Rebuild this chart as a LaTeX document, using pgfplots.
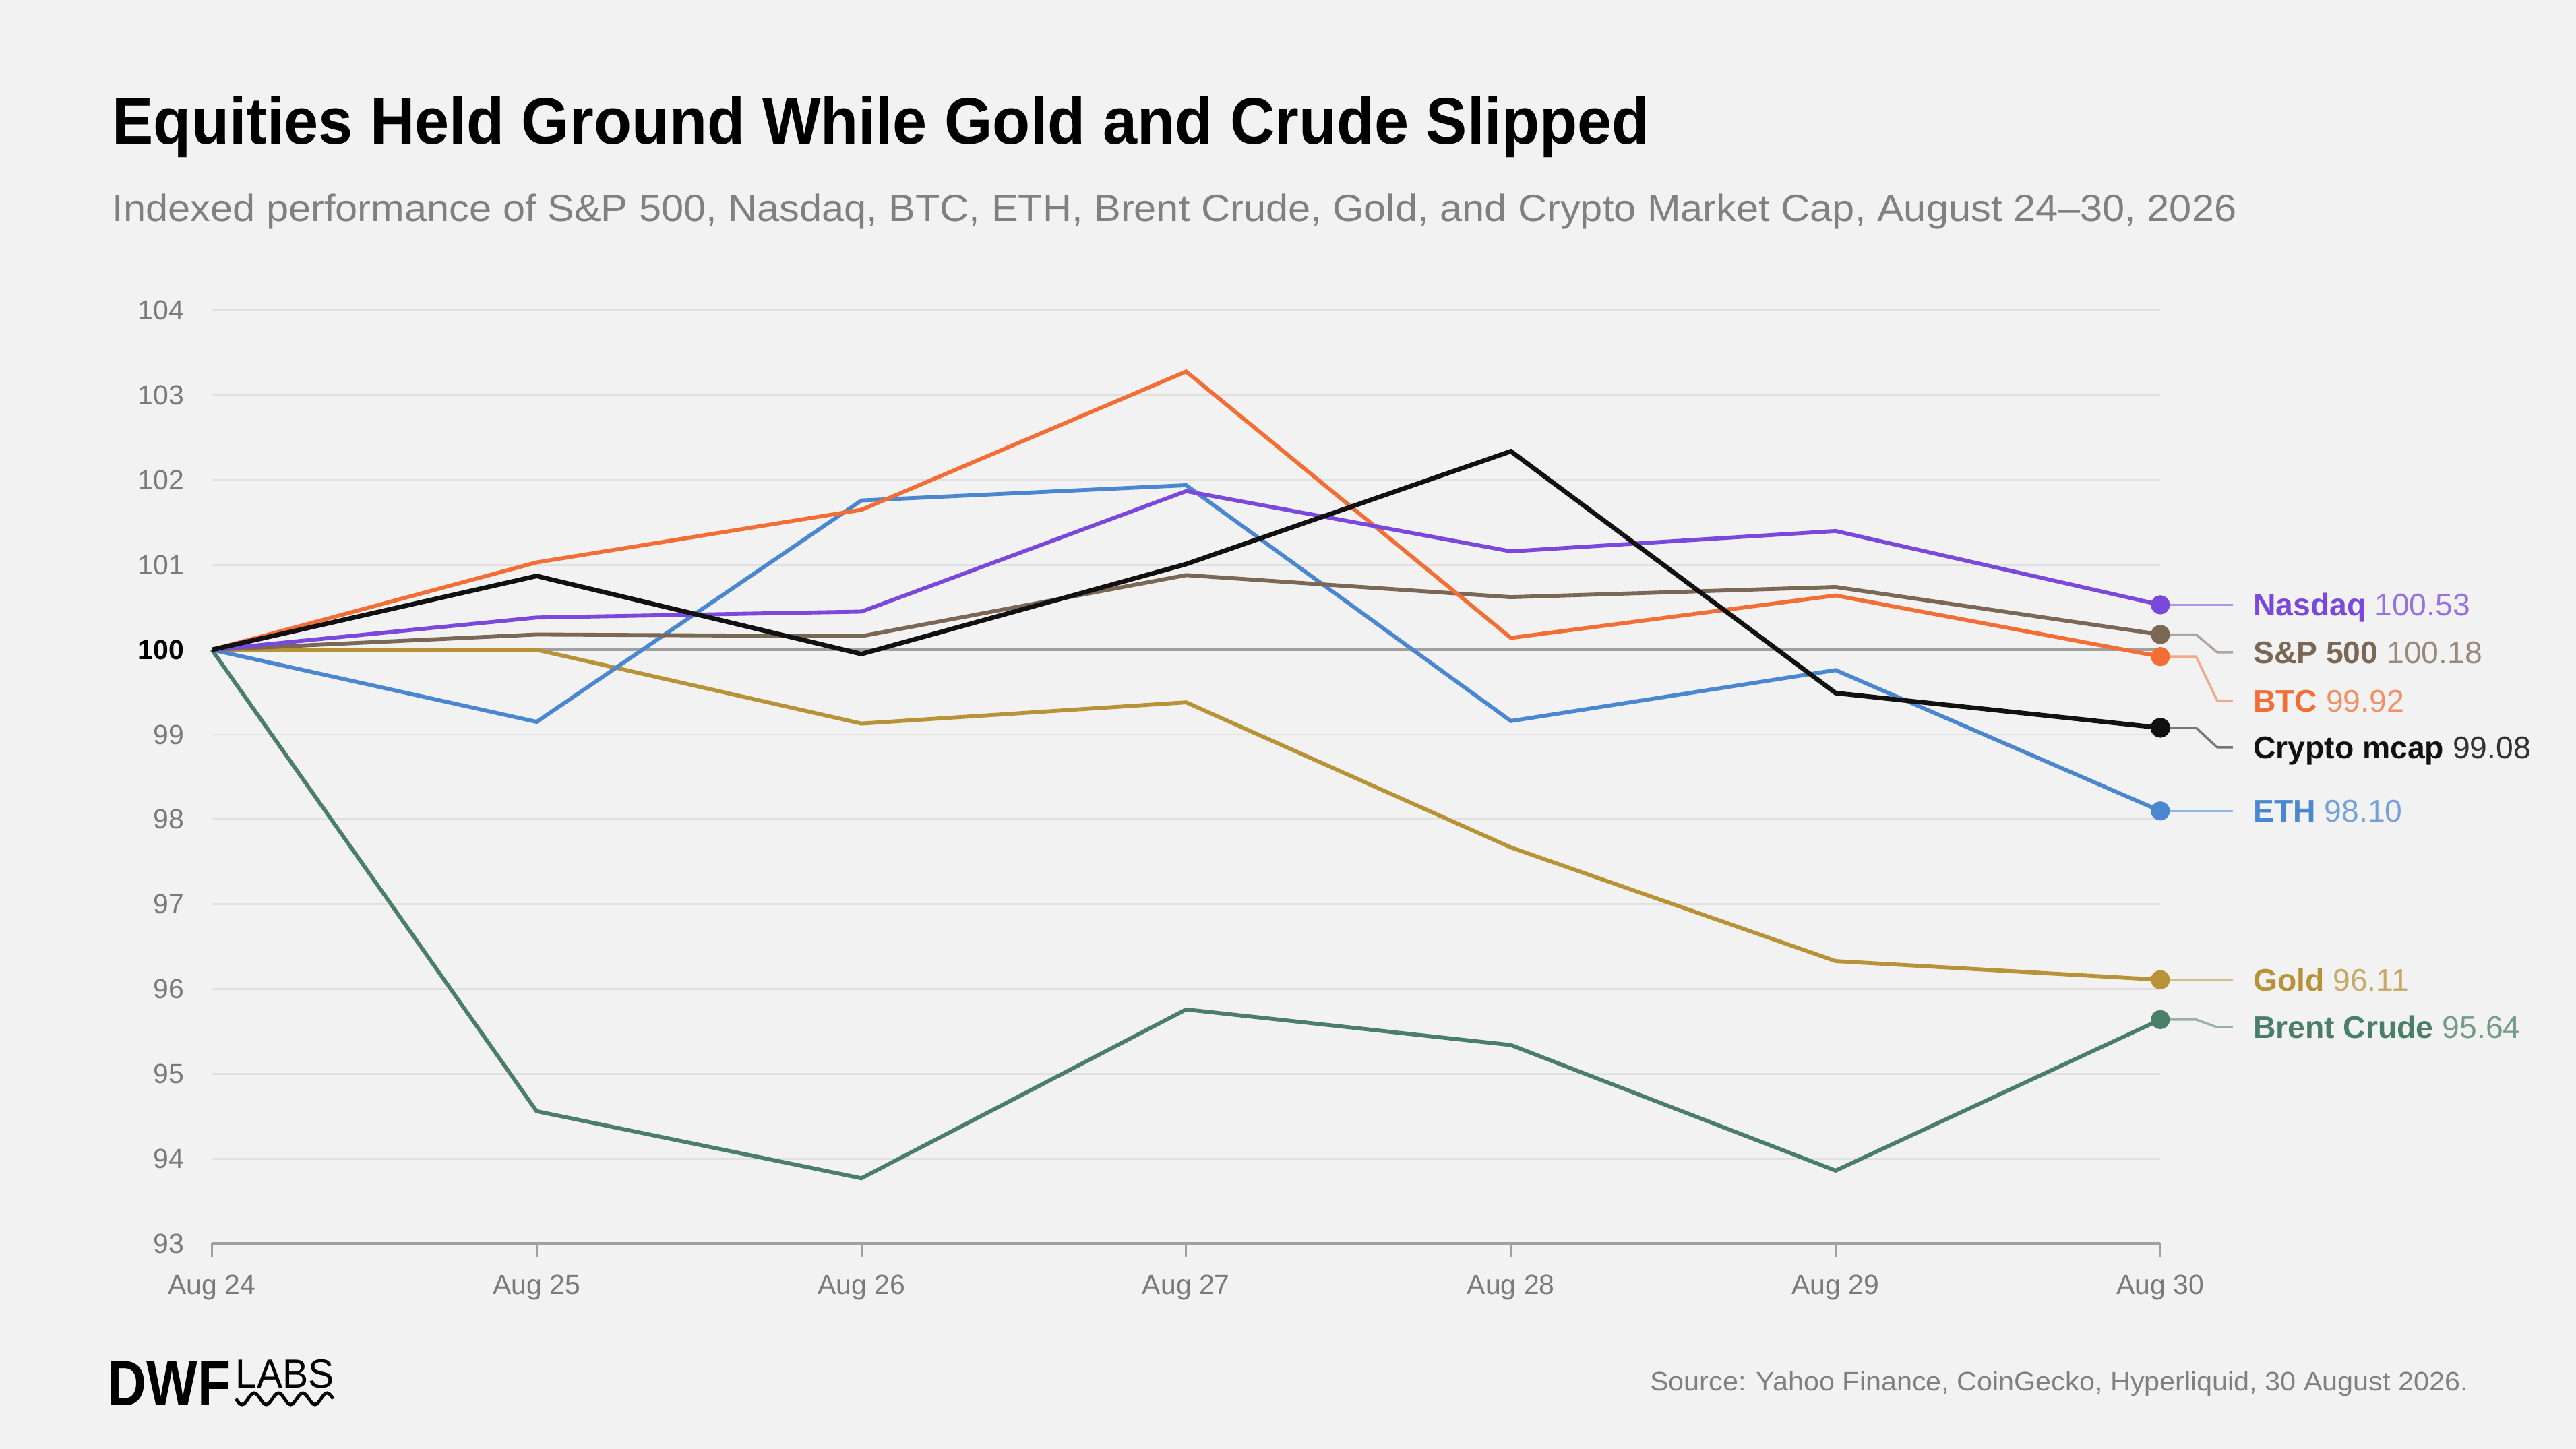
\documentclass[border=0pt]{standalone}
\usepackage{graphicx}
\usepackage{pgfplots}
\usepackage{pgfplotstable}
\pgfplotsset{compat=1.18}
\usepackage{fontspec}
\setmainfont{Liberation Sans}
\definecolor{bg}{HTML}{F2F2F2}
\definecolor{gridc}{HTML}{E1E1E1}
\definecolor{axisc}{HTML}{A0A0A0}
\definecolor{tickc}{HTML}{7A7A7A}
\definecolor{subc}{HTML}{808080}
\definecolor{nasdaqc}{HTML}{7B48DC}
\definecolor{spc}{HTML}{7A6756}
\definecolor{btcc}{HTML}{F26E35}
\definecolor{mcapc}{HTML}{111111}
\definecolor{ethc}{HTML}{4A87D0}
\definecolor{goldc}{HTML}{B89237}
\definecolor{brentc}{HTML}{4A7E68}

\pgfplotstableread{
x nasdaq sp btc mcap eth gold brent
0 100.00 100.00 100.00 100.00 100.00 100.00 100.00
1 100.38 100.18 101.03 100.87 99.15 100.00 94.56
2 100.45 100.16 101.65 99.95 101.76 99.13 93.77
3 101.87 100.88 103.28 101.01 101.94 99.38 95.76
4 101.16 100.62 100.14 102.34 99.16 97.67 95.34
5 101.40 100.74 100.64 99.49 99.76 96.33 93.86
6 100.53 100.18 99.92 99.08 98.10 96.11 95.64
}\data

\begin{document}
\begin{tikzpicture}
\fill[bg] (0,0) rectangle (784pt,441pt);

\node[anchor=base west, inner sep=0pt] at (34pt,397.25pt)
  {\resizebox{467.8pt}{\height}{\fontsize{20}{24}\selectfont\bfseries Equities Held Ground While Gold and Crude Slipped}};
\node[anchor=base west, inner sep=0pt, text=subc] at (34pt,373.65pt)
  {\resizebox{646.5pt}{\height}{\fontsize{11.5}{14}\selectfont Indexed performance of S\&P 500, Nasdaq, BTC, ETH, Brent Crude, Gold, and Crypto Market Cap, August 24--30, 2026}};

\begin{axis}[
  at={(64.5pt,62.5pt)}, anchor=south west,
  scale only axis, width=593pt, height=284pt,
  xmin=0, xmax=6, ymin=93, ymax=104,
  xtick={0,...,6},
  xticklabels={Aug 24,Aug 25,Aug 26,Aug 27,Aug 28,Aug 29,Aug 30},
  ytick={93,...,104},
  yticklabels={93,94,95,96,97,98,99,{\textcolor{black}{\bfseries 100}},101,102,103,104},
  ymajorgrids, grid style={color=gridc, line width=0.6pt},
  axis lines*=left,
  y axis line style={draw=none},
  x axis line style={color=axisc, line width=0.9pt, -},
  xtick style={color=axisc, line width=0.6pt},
  ytick style={draw=none},
  major tick length=4pt, xtick align=outside,
  tick label style={font=\fontsize{8.4}{10}\selectfont, text=tickc},
  xticklabel style={yshift=-2pt},
  yticklabel style={xshift=-5pt},
  clip=false,
  every axis plot/.append style={line width=1.2pt, mark size=2.3pt, mark indices={7}, mark=*},
]
\addplot[draw=axisc, line width=0.8pt, forget plot, mark=none] coordinates {(0,100) (6,100)};
\addplot[brentc] table[x=x,y=brent] {\data};
\addplot[goldc] table[x=x,y=gold] {\data};
\addplot[ethc] table[x=x,y=eth] {\data};
\addplot[spc] table[x=x,y=sp] {\data};
\addplot[btcc] table[x=x,y=btc] {\data};
\addplot[nasdaqc] table[x=x,y=nasdaq] {\data};
\addplot[mcapc, line width=1.4pt] table[x=x,y=mcap] {\data};

% connectors
\draw[nasdaqc!55!bg, line width=0.7pt] (axis cs:6,100.53) -- (axis cs:6.223,100.53);
\draw[spc!55!bg, line width=0.7pt] (axis cs:6,100.18) -- (axis cs:6.11,100.18) -- (axis cs:6.175,99.97) -- (axis cs:6.223,99.97);
\draw[btcc!55!bg, line width=0.7pt] (axis cs:6,99.92) -- (axis cs:6.11,99.92) -- (axis cs:6.175,99.40) -- (axis cs:6.223,99.40);
\draw[mcapc!55!bg, line width=0.7pt] (axis cs:6,99.08) -- (axis cs:6.11,99.08) -- (axis cs:6.175,98.85) -- (axis cs:6.223,98.85);
\draw[ethc!55!bg, line width=0.7pt] (axis cs:6,98.10) -- (axis cs:6.223,98.10);
\draw[goldc!55!bg, line width=0.7pt] (axis cs:6,96.11) -- (axis cs:6.223,96.11);
\draw[brentc!55!bg, line width=0.7pt] (axis cs:6,95.64) -- (axis cs:6.11,95.64) -- (axis cs:6.175,95.55) -- (axis cs:6.223,95.55);

\tikzset{endlab/.style={anchor=base west, inner sep=0pt, yshift=-3.4pt, font=\fontsize{9.5}{11}\selectfont}}
\node[endlab] at (axis cs:6.284,100.53) {\textcolor{nasdaqc}{\bfseries Nasdaq} \textcolor{nasdaqc!75!bg}{100.53}};
\node[endlab] at (axis cs:6.284,99.97) {\textcolor{spc}{\bfseries S\&P 500} \textcolor{spc!75!bg}{100.18}};
\node[endlab] at (axis cs:6.284,99.40) {\textcolor{btcc}{\bfseries BTC} \textcolor{btcc!75!bg}{99.92}};
\node[endlab] at (axis cs:6.284,98.85) {\textcolor{mcapc}{\bfseries Crypto mcap} \textcolor{mcapc!85!bg}{99.08}};
\node[endlab] at (axis cs:6.284,98.10) {\textcolor{ethc}{\bfseries ETH} \textcolor{ethc!75!bg}{98.10}};
\node[endlab] at (axis cs:6.284,96.11) {\textcolor{goldc}{\bfseries Gold} \textcolor{goldc!75!bg}{96.11}};
\node[endlab] at (axis cs:6.284,95.55) {\textcolor{brentc}{\bfseries Brent Crude} \textcolor{brentc!75!bg}{95.64}};
\end{axis}

% source
\node[anchor=base east, inner sep=0pt, text=subc] at (751.4pt,17.75pt)
  {\resizebox{249pt}{\height}{\fontsize{8.1}{10}\selectfont Source: Yahoo Finance, CoinGecko, Hyperliquid, 30 August 2026.}};

% logo
\node[anchor=base west, inner sep=0pt] at (32.5pt,13.3pt)
  {\resizebox{37.5pt}{\height}{\fontsize{19.5}{22}\selectfont\bfseries DWF}};
\node[anchor=base west, inner sep=0pt] at (71.5pt,18.45pt)
  {\resizebox{30pt}{\height}{\fontsize{12.4}{14}\selectfont LABS}};
\draw[black, line width=1pt] (71.8pt,15.25pt)
  \foreach \i in {1,...,4} { sin ++(1.85pt,-1.75pt) cos ++(1.85pt,1.75pt) sin ++(1.85pt,1.75pt) cos ++(1.85pt,-1.75pt) };

\pgfresetboundingbox
\path[use as bounding box] (0,0) rectangle (784pt,441pt);
\end{tikzpicture}
\end{document}
